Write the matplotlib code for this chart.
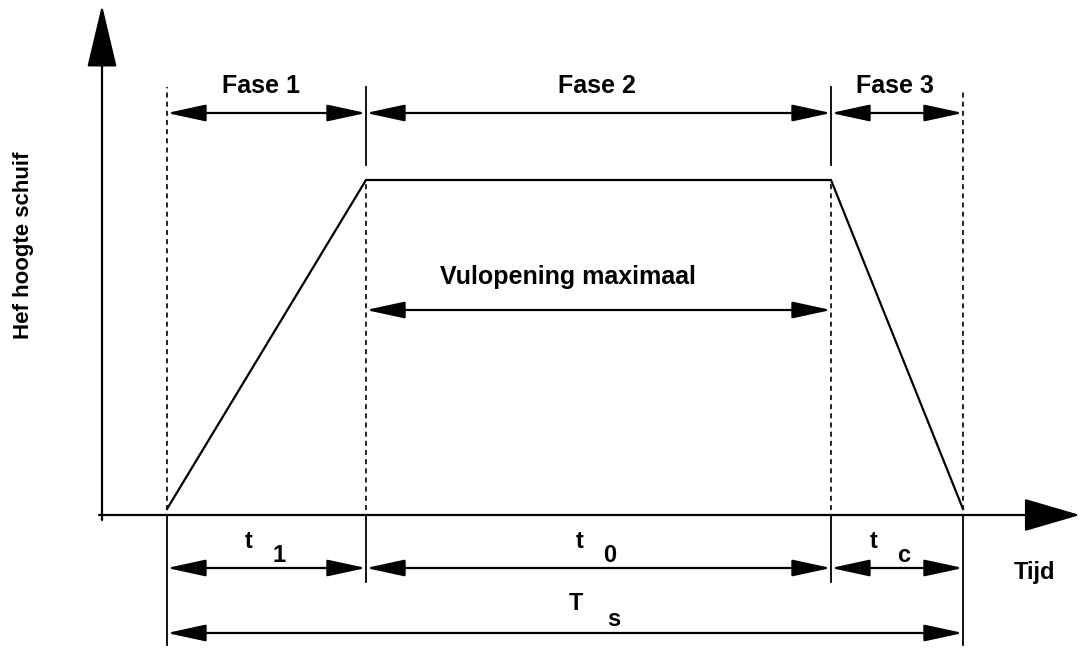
import matplotlib
matplotlib.use("Agg")
import matplotlib.pyplot as plt

# Phase boundaries on the time axis (origin = axis crossing)
phase_edges = [65, 264, 729, 861]
# Lift height of the gate: rise, hold, fall
profile_time = [65, 264, 729, 861]
profile_height = [6, 335, 335, 6]

phase_labels = ["Fase 1", "Fase 2", "Fase 3"]
time_labels = [("t", "1"), ("t", "0"), ("t", "c")]
total_label = ("T", "s")
plateau_label = "Vulopening maximaal"
x_label = "Tijd"
y_label = "Hef hoogte schuif"

plt.rcParams['font.family'] = ['Liberation Sans', 'DejaVu Sans']
plt.rcParams['font.weight'] = 'bold'

fig = plt.figure(figsize=(10.8, 6.48), dpi=100)
ax = fig.add_axes([0, 0, 1, 1])
ax.set_xlim(-102, 978)
ax.set_ylim(-133, 515)
ax.axis('off')

lw = 1.6
small_head = "<|-|>,head_length=2.4,head_width=0.52"
fs = 18


def dim_arrow(x0, x1, y):
    ax.annotate("", xy=(x1, y), xytext=(x0, y),
                arrowprops=dict(arrowstyle=small_head, color='black', lw=lw,
                                shrinkA=0, shrinkB=0, mutation_scale=10))


# axes with big arrow heads
ax.annotate("", xy=(0, 510), xytext=(0, -5),
            arrowprops=dict(arrowstyle="-|>,head_length=4.0,head_width=0.95",
                            color='black', lw=lw, shrinkA=0, shrinkB=0,
                            mutation_scale=10))
ax.annotate("", xy=(978, 0), xytext=(-3, 0),
            arrowprops=dict(arrowstyle="-|>,head_length=3.6,head_width=1.05",
                            color='black', lw=lw, shrinkA=0, shrinkB=0,
                            mutation_scale=10))

# lift profile
ax.plot(profile_time, profile_height, color='black', lw=lw, solid_joinstyle='miter')

t_a, t_b, t_c, t_d = phase_edges
top = profile_height[1]

# dashed guide lines
dash = dict(color='black', lw=1.2, linestyle=(0, (3, 2.5)))
ax.plot([t_a, t_a], [5, 428], **dash)
ax.plot([t_d, t_d], [5, 424], **dash)
ax.plot([t_b, t_b], [5, top], **dash)
ax.plot([t_c, t_c], [5, top], **dash)

# solid ticks between phases at the top
ax.plot([t_b, t_b], [350, 428], color='black', lw=1.3)
ax.plot([t_c, t_c], [350, 428], color='black', lw=1.3)

# phase arrows
phase_y = 402
for i in range(3):
    dim_arrow(phase_edges[i], phase_edges[i + 1], phase_y)
phase_text_x = [159, 495, 793]
for lab, xt in zip(phase_labels, phase_text_x):
    ax.text(xt, 429, lab, ha='center', va='center', fontsize=fs, fontweight='bold')

# plateau arrow
dim_arrow(t_b, t_c, 205)
ax.text(466, 238, plateau_label, ha='center', va='center', fontsize=fs,
        fontweight='bold')

# lower dimension lines
ax.plot([t_a, t_a], [0, -130], color='black', lw=1.3)
ax.plot([t_d, t_d], [0, -130], color='black', lw=1.3)
ax.plot([t_b, t_b], [0, -67], color='black', lw=1.3)
ax.plot([t_c, t_c], [0, -67], color='black', lw=1.3)

low_y = -53
for i in range(3):
    dim_arrow(phase_edges[i], phase_edges[i + 1], low_y)
main_x = [147, 478, 772]
for (m, s), xt in zip(time_labels, main_x):
    ax.text(xt, -26, m, ha='center', va='center', fontsize=17, fontweight='bold')
    ax.text(xt + 30, -40, s, ha='center', va='center', fontsize=17,
            fontweight='bold')

dim_arrow(t_a, t_d, -118)
ax.text(474, -89, total_label[0], ha='center', va='center', fontsize=17,
        fontweight='bold')
ax.text(512, -104, total_label[1], ha='center', va='center', fontsize=17,
        fontweight='bold')

ax.text(932, -57, x_label, ha='center', va='center', fontsize=17, fontweight='bold')
ax.text(-78, 270, y_label, ha='center', va='center', rotation=90, fontsize=16,
        fontweight='bold')

fig.savefig("out.png", dpi=100, facecolor='white')
